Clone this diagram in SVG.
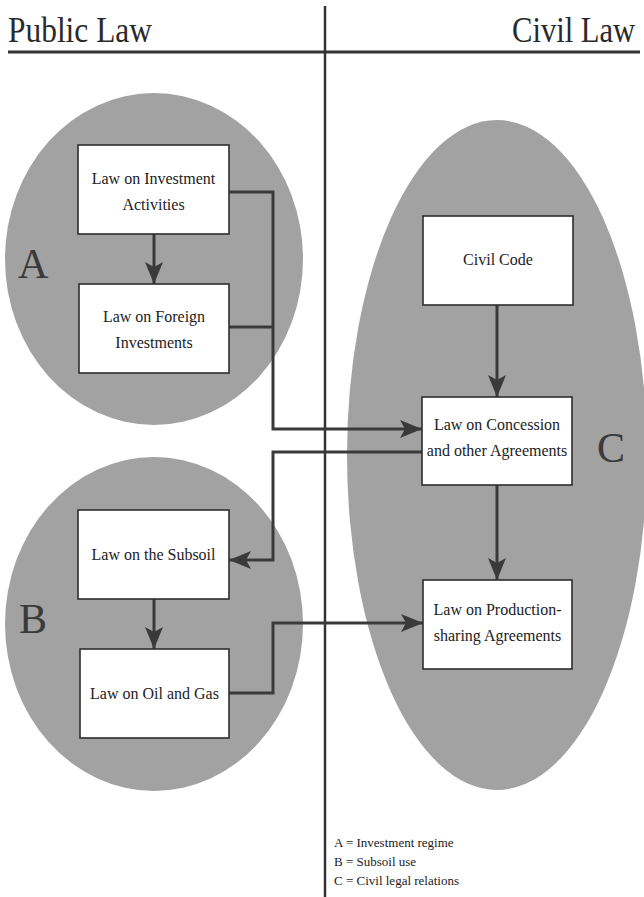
<svg xmlns="http://www.w3.org/2000/svg" width="644" height="897" viewBox="0 0 644 897">
<style>
.bg{fill:#ffffff}
.zone{fill:#a2a2a2}
.box{fill:#ffffff;stroke:#2e2e2e;stroke-width:1.6}
.t{font-family:"Liberation Serif","Times New Roman",serif;font-size:16px;fill:#222;text-anchor:middle}
.big{font-family:"Liberation Serif","Times New Roman",serif;font-size:36px;fill:#2a2a2a}
.zl{font-family:"Liberation Serif","Times New Roman",serif;font-size:42px;fill:#3a3a3a}
.leg{font-family:"Liberation Serif","Times New Roman",serif;font-size:13px;fill:#222}
.rule{stroke:#333;fill:none}
.c{stroke:#3a3a3a;stroke-width:3;fill:none}
</style>
<defs>
<marker id="ah" viewBox="0 0 22 18" refX="22" refY="9" markerWidth="22" markerHeight="18" markerUnits="userSpaceOnUse" orient="auto">
<path d="M0,0 L22,9 L0,18 L5,9 Z" fill="#3a3a3a"/>
</marker>
</defs>
<rect class="bg" x="0" y="0" width="644" height="897"/>

<g id="header">
<text class="big" transform="translate(8,42) scale(0.873,1)" x="0" y="0">Public Law</text>
<text class="big" transform="translate(512,42) scale(0.85,1)" x="0" y="0">Civil Law</text>
<line class="rule" x1="8" y1="52" x2="640" y2="52" stroke-width="3"/>
<line class="rule" x1="325" y1="6" x2="325" y2="897" stroke-width="2.5"/>
</g>

<g id="zoneA">
<ellipse class="zone" cx="154" cy="259" rx="149" ry="166"/>
<text class="zl" x="18" y="278">A</text>
</g>
<g id="zoneB">
<ellipse class="zone" cx="154" cy="624" rx="149" ry="167"/>
<text class="zl" x="19" y="633">B</text>
</g>
<g id="zoneC">
<ellipse class="zone" cx="497" cy="455" rx="150" ry="335"/>
<text class="zl" x="597" y="462">C</text>
</g>

<g id="connectors">
<path class="c" d="M229,192 H273 V429 H422" marker-end="url(#ah)"/>
<path class="c" d="M229,327 H273"/>
<path class="c" d="M422,452 H273 V560 H229" marker-end="url(#ah)"/>
<path class="c" d="M229,693 H273 V623 H423" marker-end="url(#ah)"/>
<path class="c" d="M154,234 V284" marker-end="url(#ah)"/>
<path class="c" d="M154,599 V649" marker-end="url(#ah)"/>
<path class="c" d="M497,305 V397" marker-end="url(#ah)"/>
<path class="c" d="M497,485 V580" marker-end="url(#ah)"/>
</g>

<g id="investmentActivities">
<rect class="box" x="78" y="145" width="151" height="89"/>
<text class="t" x="153.5" y="184">Law on Investment</text>
<text class="t" x="153.5" y="210">Activities</text>
</g>
<g id="foreignInvestments">
<rect class="box" x="79" y="284" width="150" height="89"/>
<text class="t" x="154" y="322">Law on Foreign</text>
<text class="t" x="154" y="348">Investments</text>
</g>
<g id="subsoil">
<rect class="box" x="78" y="510" width="151" height="89"/>
<text class="t" x="153.5" y="560">Law on the Subsoil</text>
</g>
<g id="oilGas">
<rect class="box" x="80" y="649" width="149" height="89"/>
<text class="t" x="154.5" y="699">Law on Oil and Gas</text>
</g>
<g id="civilCode">
<rect class="box" x="423" y="216" width="150" height="89"/>
<text class="t" x="498" y="265">Civil Code</text>
</g>
<g id="concession">
<rect class="box" x="422" y="397" width="150" height="88"/>
<text class="t" x="497" y="430">Law on Concession</text>
<text class="t" x="497" y="456">and other Agreements</text>
</g>
<g id="productionSharing">
<rect class="box" x="423" y="580" width="149" height="89"/>
<text class="t" x="497.5" y="615">Law on Production-</text>
<text class="t" x="497.5" y="641">sharing Agreements</text>
</g>

<g id="legend">
<text class="leg" x="334" y="847">A = Investment regime</text>
<text class="leg" x="334" y="866">B = Subsoil use</text>
<text class="leg" x="334" y="885">C = Civil legal relations</text>
</g>
</svg>
